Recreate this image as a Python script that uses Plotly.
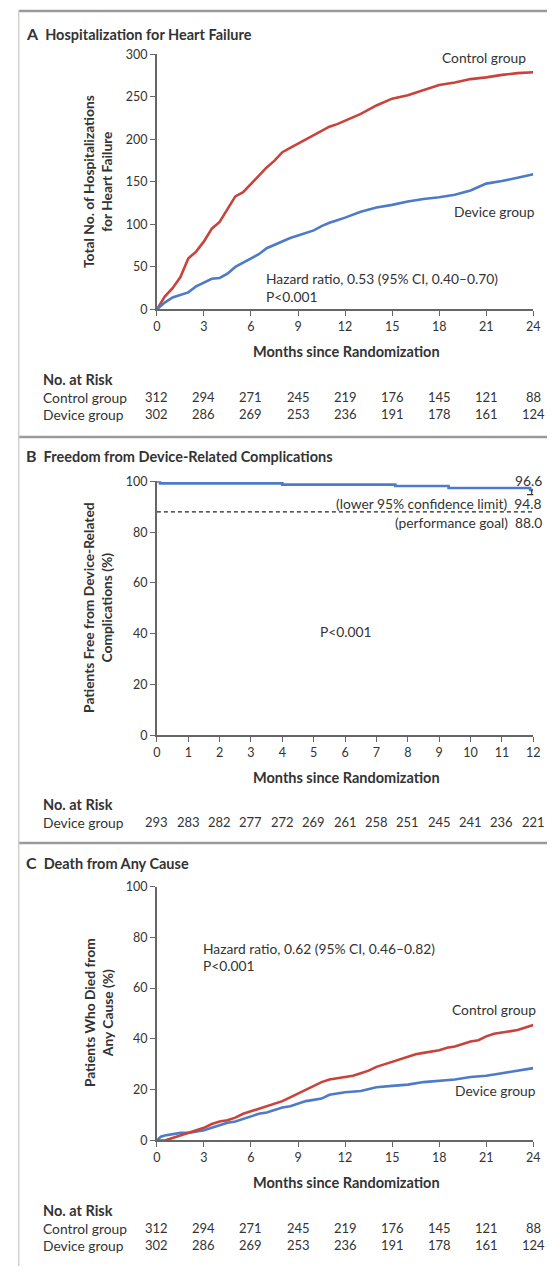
import plotly.graph_objects as go

W, H = 554, 1273

# ---------------- Data ----------------
# Panel A: cumulative hospitalizations for heart failure
a_months = [0, 0.5, 1, 1.5, 2, 2.5, 3, 3.5, 4, 4.5, 5, 5.5, 6, 6.5, 7, 7.5, 8, 8.5, 9, 9.5,
            10, 10.5, 11, 11.5, 12, 13, 14, 15, 16, 17, 18, 19, 20, 21, 22, 23, 24]
a_control = [0, 15, 25, 38, 60, 68, 80, 95, 103, 118, 133, 138, 148, 157, 167, 175, 185, 190, 195, 200,
             205, 210, 215, 218, 222, 230, 240, 248, 252, 258, 264, 267, 271, 273, 276, 278, 279]
a_device = [0, 8, 14, 17, 20, 27, 32, 36, 37, 42, 50, 55, 60, 65, 72, 76, 80, 84, 87, 90,
            93, 98, 102, 105, 108, 115, 120, 123, 127, 130, 132, 135, 140, 148, 151, 155, 159]
a_ticks = [0, 3, 6, 9, 12, 15, 18, 21, 24]
a_risk_control = [312, 294, 271, 245, 219, 176, 145, 121, 88]
a_risk_device = [302, 286, 269, 253, 236, 191, 178, 161, 124]

# Panel B: freedom from device-related complications
b_months = [0, 0.1, 4.0, 7.6, 9.3, 11.9, 12]
b_free = [100, 99.2, 98.7, 98.2, 97.4, 96.6, 96.6]
b_final = 96.6
b_lower_ci = 94.8
b_goal = 88.0
b_ticks = list(range(13))
b_risk_device = [293, 283, 282, 277, 272, 269, 261, 258, 251, 245, 241, 236, 221]

# Panel C: death from any cause
c_months = [0, 0.5, 1, 1.5, 2, 2.5, 3, 3.5, 4, 4.5, 5, 5.5, 6, 6.5, 7, 7.5, 8, 8.5, 9, 9.5,
            10, 10.5, 11, 11.5, 12, 12.5, 13, 13.5, 14, 14.5, 15, 15.5, 16, 16.5, 17, 17.5,
            18, 18.5, 19, 19.5, 20, 20.5, 21, 21.5, 22, 22.5, 23, 23.5, 24]
c_control = [0, 0, 1, 2, 3, 4, 5, 6.5, 7.5, 8, 9, 10.5, 11.5, 12.5, 13.5, 14.5, 15.5, 17, 18.5, 20,
             21.5, 23, 24, 24.5, 25, 25.5, 26.5, 27.5, 29, 30, 31, 32, 33, 34, 34.5, 35,
             35.5, 36.5, 37, 38, 39, 39.5, 41, 42, 42.5, 43, 43.5, 44.5, 45.5]
c_dev_months = [0, 0.25, 0.5, 1, 1.5, 2, 2.5, 3, 3.5, 4, 4.5, 5, 5.5, 6, 6.5, 7, 7.5, 8, 8.5, 9,
                9.5, 10, 10.5, 11, 11.5, 12, 13, 14, 15, 16, 17, 18, 19, 20, 21, 22, 23, 24]
c_device = [0, 1.5, 2, 2.5, 3, 3, 3.5, 4, 5, 6, 7, 7.5, 8.5, 9.5, 10.5, 11, 12, 13, 13.5, 14.5,
            15.5, 16, 16.5, 18, 18.5, 19, 19.5, 21, 21.5, 22, 23, 23.5, 24, 25, 25.5, 26.5, 27.5, 28.5]
c_ticks = [0, 3, 6, 9, 12, 15, 18, 21, 24]
c_risk_control = [312, 294, 271, 245, 219, 176, 145, 121, 88]
c_risk_device = [302, 286, 269, 253, 236, 191, 178, 161, 124]

# ---------------- Styling ----------------
RED = "#c8433b"
BLUE = "#4d7bc8"
TXT = "#333333"
AX = "#666666"
FONT = "Lato"
TS = 13.8   # body text size
NS = 12.5   # number size


def px(xpx):
    return xpx / W


def py(ypx):
    return 1 - ypx / H


fig = go.Figure()

# Panel A traces
fig.add_trace(go.Scatter(x=a_months, y=a_control, mode="lines", line=dict(color=RED, width=2.6),
                         xaxis="x", yaxis="y", showlegend=False))
fig.add_trace(go.Scatter(x=a_months, y=a_device, mode="lines", line=dict(color=BLUE, width=2.6),
                         xaxis="x", yaxis="y", showlegend=False))

# Panel B traces
fig.add_trace(go.Scatter(x=[0, 12], y=[b_goal, b_goal], mode="lines",
                         line=dict(color="#222222", width=1.3, dash="4px,3px"),
                         xaxis="x2", yaxis="y2", showlegend=False))
fig.add_trace(go.Scatter(x=b_months, y=b_free, mode="lines", line=dict(color=BLUE, width=2.6, shape="hv"),
                         xaxis="x2", yaxis="y2", showlegend=False))
fig.add_trace(go.Scatter(x=[11.95, 11.95, None, 11.8, 12.08], y=[b_final, b_lower_ci, None, b_lower_ci, b_lower_ci],
                         mode="lines", line=dict(color="#333333", width=1.2),
                         xaxis="x2", yaxis="y2", showlegend=False))

# Panel C traces
fig.add_trace(go.Scatter(x=c_dev_months, y=c_device, mode="lines", line=dict(color=BLUE, width=2.6),
                         xaxis="x3", yaxis="y3", showlegend=False))
fig.add_trace(go.Scatter(x=c_months, y=c_control, mode="lines", line=dict(color=RED, width=2.6),
                         xaxis="x3", yaxis="y3", showlegend=False))

xdom = [px(156), px(540)]


def xaxis(ticks, rng, anchor):
    return dict(domain=xdom, range=rng, tickvals=ticks, ticktext=[str(t) for t in ticks],
                showline=True, linecolor=AX, linewidth=1.6, ticks="outside", ticklen=5,
                tickcolor=AX, tickwidth=1.2, showgrid=False, zeroline=False, anchor=anchor,
                tickfont=dict(family=FONT, size=NS, color=TXT), fixedrange=True)


def yaxis(dom, rng, ticks, anchor):
    return dict(domain=dom, range=rng, tickvals=ticks, showline=True, linecolor=AX, linewidth=1.6,
                ticks="outside", ticklen=5, tickcolor=AX, tickwidth=1.2, showgrid=False,
                zeroline=False, anchor=anchor, tickfont=dict(family=FONT, size=NS, color=TXT),
                fixedrange=True)


layout = dict(
    width=W, height=H, margin=dict(l=0, r=0, t=0, b=0),
    paper_bgcolor="white", plot_bgcolor="white",
    font=dict(family=FONT, color=TXT),
    xaxis=xaxis(a_ticks, [0, 24], "y"),
    yaxis=yaxis([py(305), py(47)], [0, 300], [0, 50, 100, 150, 200, 250, 300], "x"),
    xaxis2=xaxis(b_ticks, [0, 12], "y2"),
    yaxis2=yaxis([py(736), py(479)], [0, 100], [0, 20, 40, 60, 80, 100], "x2"),
    xaxis3=xaxis(c_ticks, [0, 24], "y3"),
    yaxis3=yaxis([py(1146), py(889)], [0, 100], [0, 20, 40, 60, 80, 100], "x3"),
)
fig.update_layout(**layout)

ann = []


def text(x, y, s, size=TS, bold=False, xanchor="left", xref="paper", angle=0, yanchor="middle"):
    if bold:
        s = "<b>" + s + "</b>"
    ann.append(dict(x=x, y=y, xref=xref, yref="paper", text=s, showarrow=False, xanchor=xanchor,
                    yanchor=yanchor, textangle=angle,
                    font=dict(family=FONT, size=size, color=TXT)))


# Panel titles
text(px(20), py(26), "<span style='font-size:16px'>A</span>  Hospitalization for Heart Failure", 14.5, True)
text(px(20), py(453), "<span style='font-size:16px'>B</span>  Freedom from Device-Related Complications", 14.5, True)
text(px(20), py(865), "<span style='font-size:16px'>C</span>  Death from Any Cause", 14.5, True)

# Y-axis titles
text(px(96), py(176), "Total No. of Hospitalizations<br>for Heart Failure", 13.8, True, "center", angle=-90)
text(px(96), py(607), "Patients Free from Device-Related<br>Complications (%)", 13.8, True, "center", angle=-90)
text(px(96), py(1017), "Patients Who Died from<br>Any Cause (%)", 13.8, True, "center", angle=-90)

# X-axis titles
for yy in (348, 779, 1189):
    text(px(349), py(yy), "Months since Randomization", 14.5, True, "center")

# Panel A labels
text(px(535), py(50), "Control group", xanchor="right")
text(px(544), py(206), "Device group", xanchor="right")
text(px(265), py(274), "Hazard ratio, 0.53 (95% CI, 0.40–0.70)")
text(px(265), py(292), "P&lt;0.001")

# Panel B labels
text(px(551), py(478), "96.6", xanchor="right")
text(px(551), py(501), "(lower 95% confidence limit)  94.8", xanchor="right")
text(px(551), py(521), "(performance goal)  88.0", xanchor="right")
text(px(349), py(631), "P&lt;0.001", xanchor="center")

# Panel C labels
text(px(201), py(952), "Hazard ratio, 0.62 (95% CI, 0.46–0.82)")
text(px(201), py(969), "P&lt;0.001")
text(px(545), py(1013), "Control group", xanchor="right")
text(px(545), py(1095), "Device group", xanchor="right")


def risk_table(y_head, rows, ticks, xref):
    text(px(38), py(y_head), "No. at Risk", 14.5, True)
    for label, vals, yy in rows:
        text(px(38), py(yy), label, TS)
        for t, v in zip(ticks, vals):
            ann.append(dict(x=t, y=py(yy), xref=xref, yref="paper", text=str(v), showarrow=False,
                            xanchor="center", yanchor="middle",
                            font=dict(family=FONT, size=NS + 0.5, color=TXT)))


risk_table(376, [("Control group", a_risk_control, 394), ("Device group", a_risk_device, 411)], a_ticks, "x")
risk_table(806, [("Device group", b_risk_device, 824)], b_ticks, "x2")
risk_table(1217, [("Control group", c_risk_control, 1235), ("Device group", c_risk_device, 1252)], c_ticks, "x3")

fig.update_layout(annotations=ann)

# Frame lines
shapes = [
    dict(type="line", xref="paper", yref="paper", x0=px(15), x1=1, y0=py(3), y1=py(3),
         line=dict(color="#9a9a9a", width=2.5)),
    dict(type="line", xref="paper", yref="paper", x0=px(15), x1=1, y0=py(434), y1=py(434),
         line=dict(color="#9a9a9a", width=2.5)),
    dict(type="line", xref="paper", yref="paper", x0=px(15), x1=1, y0=py(845), y1=py(845),
         line=dict(color="#9a9a9a", width=2.5)),
    dict(type="line", xref="paper", yref="paper", x0=px(15), x1=px(15), y0=py(3), y1=0,
         line=dict(color="#d0d0d0", width=1.5)),
]
fig.update_layout(shapes=shapes)

fig.write_html(
    "out.html",
    config={"displayModeBar": False, "staticPlot": False},
    post_script="document.body.style.margin='0';document.body.style.overflow='hidden';"
                "document.documentElement.style.overflow='hidden';",
)
